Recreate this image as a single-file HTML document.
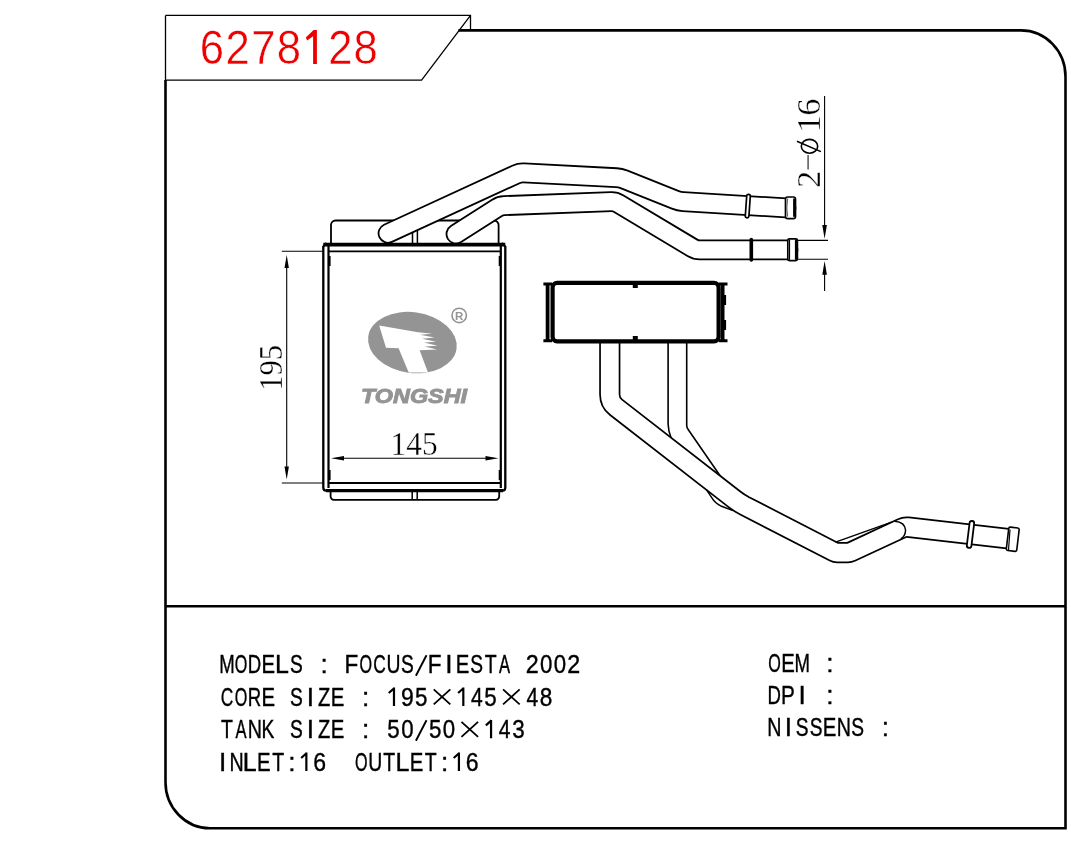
<!DOCTYPE html><html><head><meta charset="utf-8"><style>html,body{margin:0;padding:0;background:#fff;width:1071px;height:844px;overflow:hidden}svg{display:block;will-change:transform}</style></head><body>
<svg width="1071" height="844" viewBox="0 0 1071 844">
<rect width="1071" height="844" fill="#fff"/>
<g fill="none" stroke="#000" stroke-linecap="butt">
<path d="M165.5 15.4H470.5V30.2M470.5 15.4L421.6 80.1H165.5V15.4" stroke-width="1.3"/>
<path d="M458.4 30.4H1021A44.5 46 0 0 1 1065.5 76.4V828.2H210A44.5 46 0 0 1 165.5 782.2V80" stroke-width="2.6"/>
<path d="M165.5 606.2H1065.5" stroke-width="2.6"/>
</g>
<path d="M313.1 64V36.3L307.2 40.6L305.8 37.6L313.6 30.1H316.9V64Z" fill="#ee0000"/>
<text transform="translate(211.85,63.6) scale(0.9,1)" text-anchor="middle" font-family="Liberation Sans" font-size="48.5" fill="#ee0000" stroke="#fff" stroke-width="0.5">6</text>
<text transform="translate(237.6,63.6) scale(0.9,1)" text-anchor="middle" font-family="Liberation Sans" font-size="48.5" fill="#ee0000" stroke="#fff" stroke-width="0.5">2</text>
<text transform="translate(263.5,63.6) scale(0.9,1)" text-anchor="middle" font-family="Liberation Sans" font-size="48.5" fill="#ee0000" stroke="#fff" stroke-width="0.5">7</text>
<text transform="translate(288.8,63.6) scale(0.9,1)" text-anchor="middle" font-family="Liberation Sans" font-size="48.5" fill="#ee0000" stroke="#fff" stroke-width="0.5">8</text>
<text transform="translate(340.5,63.6) scale(0.9,1)" text-anchor="middle" font-family="Liberation Sans" font-size="48.5" fill="#ee0000" stroke="#fff" stroke-width="0.5">2</text>
<text transform="translate(365.75,63.6) scale(0.9,1)" text-anchor="middle" font-family="Liberation Sans" font-size="48.5" fill="#ee0000" stroke="#fff" stroke-width="0.5">8</text>
<g font-family="Liberation Sans" font-size="26.2" fill="#000" stroke="#000" stroke-width="0.4">
<text transform="translate(227.03,673.30) scale(0.709,1)" x="-10.90" y="0">M</text>
<text transform="translate(240.91,673.30) scale(0.616,1)" x="-10.17" y="0">O</text>
<text transform="translate(254.77,673.30) scale(0.710,1)" x="-9.89" y="0">D</text>
<text transform="translate(268.64,673.30) scale(0.776,1)" x="-9.24" y="0">E</text>
<text transform="translate(282.51,673.30) scale(0.954,1)" x="-7.91" y="0">L</text>
<text transform="translate(296.38,673.30) scale(0.731,1)" x="-8.72" y="0">S</text>
<text transform="translate(324.12,673.30) scale(1.000,1)" x="-3.63" y="0">:</text>
<text transform="translate(351.87,673.30) scale(0.860,1)" x="-8.54" y="0">F</text>
<text transform="translate(365.74,673.30) scale(0.616,1)" x="-10.17" y="0">O</text>
<text transform="translate(379.61,673.30) scale(0.664,1)" x="-9.62" y="0">C</text>
<text transform="translate(393.48,673.30) scale(0.740,1)" x="-9.45" y="0">U</text>
<text transform="translate(407.34,673.30) scale(0.731,1)" x="-8.72" y="0">S</text>
<path d="M415.91 675.70L426.51 655.20" stroke="#000" stroke-width="1.9" fill="none"/>
<text transform="translate(435.08,673.30) scale(0.860,1)" x="-8.54" y="0">F</text>
<text transform="translate(448.95,673.30) scale(1.000,1)" x="-3.63" y="0">I</text>
<text transform="translate(462.82,673.30) scale(0.776,1)" x="-9.24" y="0">E</text>
<text transform="translate(476.69,673.30) scale(0.731,1)" x="-8.72" y="0">S</text>
<text transform="translate(490.56,673.30) scale(0.743,1)" x="-7.98" y="0">T</text>
<text transform="translate(504.43,673.30) scale(0.634,1)" x="-8.72" y="0">A</text>
<text transform="translate(532.17,673.30) scale(0.889,1)" x="-7.27" y="0">2</text>
<text transform="translate(546.04,673.30) scale(0.848,1)" x="-7.27" y="0">0</text>
<text transform="translate(559.91,673.30) scale(0.848,1)" x="-7.27" y="0">0</text>
<text transform="translate(573.78,673.30) scale(0.889,1)" x="-7.27" y="0">2</text>
<text transform="translate(227.03,705.90) scale(0.664,1)" x="-9.62" y="0">C</text>
<text transform="translate(240.91,705.90) scale(0.616,1)" x="-10.17" y="0">O</text>
<text transform="translate(254.77,705.90) scale(0.709,1)" x="-9.90" y="0">R</text>
<text transform="translate(268.64,705.90) scale(0.776,1)" x="-9.24" y="0">E</text>
<text transform="translate(296.38,705.90) scale(0.731,1)" x="-8.72" y="0">S</text>
<text transform="translate(310.25,705.90) scale(1.000,1)" x="-3.63" y="0">I</text>
<text transform="translate(324.12,705.90) scale(0.768,1)" x="-8.00" y="0">Z</text>
<text transform="translate(338.00,705.90) scale(0.776,1)" x="-9.24" y="0">E</text>
<text transform="translate(365.74,705.90) scale(1.000,1)" x="-3.63" y="0">:</text>
<path d="M393.98 705.90V687.60M394.38 688.00L388.78 693.00" stroke="#000" stroke-width="2.2" fill="none"/>
<text transform="translate(407.34,705.90) scale(0.878,1)" x="-7.27" y="0">9</text>
<text transform="translate(421.21,705.90) scale(0.855,1)" x="-7.24" y="0">5</text>
<path d="M433.72 689.40L450.32 704.40M450.32 689.40L433.72 704.40" stroke="#000" stroke-width="1.8" fill="none"/>
<path d="M463.32 705.90V687.60M463.72 688.00L458.12 693.00" stroke="#000" stroke-width="2.2" fill="none"/>
<text transform="translate(476.69,705.90) scale(0.804,1)" x="-7.19" y="0">4</text>
<text transform="translate(490.56,705.90) scale(0.855,1)" x="-7.24" y="0">5</text>
<path d="M503.07 689.40L519.67 704.40M519.67 689.40L503.07 704.40" stroke="#000" stroke-width="1.8" fill="none"/>
<text transform="translate(532.17,705.90) scale(0.804,1)" x="-7.19" y="0">4</text>
<text transform="translate(546.04,705.90) scale(0.863,1)" x="-7.27" y="0">8</text>
<text transform="translate(227.03,738.30) scale(0.743,1)" x="-7.98" y="0">T</text>
<text transform="translate(240.91,738.30) scale(0.634,1)" x="-8.72" y="0">A</text>
<text transform="translate(254.77,738.30) scale(0.752,1)" x="-9.46" y="0">N</text>
<text transform="translate(268.64,738.30) scale(0.734,1)" x="-9.64" y="0">K</text>
<text transform="translate(296.38,738.30) scale(0.731,1)" x="-8.72" y="0">S</text>
<text transform="translate(310.25,738.30) scale(1.000,1)" x="-3.63" y="0">I</text>
<text transform="translate(324.12,738.30) scale(0.768,1)" x="-8.00" y="0">Z</text>
<text transform="translate(338.00,738.30) scale(0.776,1)" x="-9.24" y="0">E</text>
<text transform="translate(365.74,738.30) scale(1.000,1)" x="-3.63" y="0">:</text>
<text transform="translate(393.48,738.30) scale(0.855,1)" x="-7.24" y="0">5</text>
<text transform="translate(407.34,738.30) scale(0.848,1)" x="-7.27" y="0">0</text>
<path d="M415.91 740.70L426.51 720.20" stroke="#000" stroke-width="1.9" fill="none"/>
<text transform="translate(435.08,738.30) scale(0.855,1)" x="-7.24" y="0">5</text>
<text transform="translate(448.95,738.30) scale(0.848,1)" x="-7.27" y="0">0</text>
<path d="M461.46 721.80L478.06 736.80M478.06 721.80L461.46 736.80" stroke="#000" stroke-width="1.8" fill="none"/>
<path d="M491.06 738.30V720.00M491.46 720.40L485.86 725.40" stroke="#000" stroke-width="2.2" fill="none"/>
<text transform="translate(504.43,738.30) scale(0.804,1)" x="-7.19" y="0">4</text>
<text transform="translate(518.30,738.30) scale(0.855,1)" x="-7.19" y="0">3</text>
<text transform="translate(222.63,770.90) scale(1.000,1)" x="-3.63" y="0">I</text>
<text transform="translate(236.50,770.90) scale(0.752,1)" x="-9.46" y="0">N</text>
<text transform="translate(250.38,770.90) scale(0.954,1)" x="-7.91" y="0">L</text>
<text transform="translate(264.25,770.90) scale(0.776,1)" x="-9.24" y="0">E</text>
<text transform="translate(278.12,770.90) scale(0.743,1)" x="-7.98" y="0">T</text>
<text transform="translate(291.99,770.90) scale(1.000,1)" x="-3.63" y="0">:</text>
<path d="M306.36 770.90V752.60M306.75 753.00L301.16 758.00" stroke="#000" stroke-width="2.2" fill="none"/>
<text transform="translate(319.72,770.90) scale(0.880,1)" x="-7.36" y="0">6</text>
<text transform="translate(361.33,770.90) scale(0.616,1)" x="-10.17" y="0">O</text>
<text transform="translate(375.20,770.90) scale(0.740,1)" x="-9.45" y="0">U</text>
<text transform="translate(389.07,770.90) scale(0.743,1)" x="-7.98" y="0">T</text>
<text transform="translate(402.94,770.90) scale(0.954,1)" x="-7.91" y="0">L</text>
<text transform="translate(416.81,770.90) scale(0.776,1)" x="-9.24" y="0">E</text>
<text transform="translate(430.68,770.90) scale(0.743,1)" x="-7.98" y="0">T</text>
<text transform="translate(444.55,770.90) scale(1.000,1)" x="-3.63" y="0">:</text>
<path d="M458.92 770.90V752.60M459.32 753.00L453.72 758.00" stroke="#000" stroke-width="2.2" fill="none"/>
<text transform="translate(472.29,770.90) scale(0.880,1)" x="-7.36" y="0">6</text>
<text transform="translate(774.43,671.70) scale(0.616,1)" x="-10.17" y="0">O</text>
<text transform="translate(788.30,671.70) scale(0.776,1)" x="-9.24" y="0">E</text>
<text transform="translate(802.17,671.70) scale(0.709,1)" x="-10.90" y="0">M</text>
<text transform="translate(829.91,671.70) scale(1.000,1)" x="-3.63" y="0">:</text>
<text transform="translate(774.43,704.30) scale(0.710,1)" x="-9.89" y="0">D</text>
<text transform="translate(788.30,704.30) scale(0.791,1)" x="-9.10" y="0">P</text>
<text transform="translate(802.17,704.30) scale(1.000,1)" x="-3.63" y="0">I</text>
<text transform="translate(829.91,704.30) scale(1.000,1)" x="-3.63" y="0">:</text>
<text transform="translate(774.43,736.40) scale(0.752,1)" x="-9.46" y="0">N</text>
<text transform="translate(788.30,736.40) scale(1.000,1)" x="-3.63" y="0">I</text>
<text transform="translate(802.17,736.40) scale(0.731,1)" x="-8.72" y="0">S</text>
<text transform="translate(816.04,736.40) scale(0.731,1)" x="-8.72" y="0">S</text>
<text transform="translate(829.91,736.40) scale(0.776,1)" x="-9.24" y="0">E</text>
<text transform="translate(843.78,736.40) scale(0.752,1)" x="-9.46" y="0">N</text>
<text transform="translate(857.65,736.40) scale(0.731,1)" x="-8.72" y="0">S</text>
<text transform="translate(885.39,736.40) scale(1.000,1)" x="-3.63" y="0">:</text>
</g>
<g fill="none" stroke="#000">
<path d="M331 244V225A4.5 4.5 0 0 1 335.5 220.5H494A4.5 4.5 0 0 1 498.6 225V244" stroke-width="1.8"/>
<path d="M412.5 228V244M417.4 228V244" stroke-width="1.5"/>
<path d="M330.6 491V496.5A3.3 3.3 0 0 0 333.9 499.8H495.9A3.3 3.3 0 0 0 499.2 496.5V491" stroke-width="1.8"/>
<path d="M412.2 491V500M417.2 491V500" stroke-width="1.5"/>
<path d="M323.3 246V487.5Q323.3 490.6 326 490.6M505.3 246V487.5Q505.3 490.6 502.6 490.6" stroke-width="2.3"/>
<path d="M328.5 246V488M500.8 246V488" stroke-width="2.2"/>
<path d="M323.3 244.6H505.3" stroke-width="3.6"/>
<path d="M326 490.6H503" stroke-width="3.4"/>
<path d="M323.3 246.5L326.5 242.8M505.3 246.5L502 242.8" stroke-width="2"/>
<path d="M328.5 251.3H500.8M328.5 483H500.8" stroke-width="1.8"/>
<path d="M329.8 256V266M329.8 470V480M499.5 256V266M499.5 470V480" stroke-width="1.6"/>
</g>
<path d="M456.00 234.00L496.83 207.95Q500.20 205.80 504.20 205.65L611.20 201.65Q615.20 201.50 618.63 203.56L692.37 247.79Q695.80 249.85 699.80 249.85L788.00 249.85" fill="none" stroke="#000" stroke-width="20.80" stroke-linejoin="miter" stroke-linecap="round" stroke-miterlimit="10"/><path d="M456.00 234.00L496.83 207.95Q500.20 205.80 504.20 205.65L611.20 201.65Q615.20 201.50 618.63 203.56L692.37 247.79Q695.80 249.85 699.80 249.85L788.00 249.85" fill="none" stroke="#fff" stroke-width="17.20" stroke-linejoin="miter" stroke-linecap="round" stroke-miterlimit="10"/>
<path d="M388.00 233.30L516.17 174.37Q519.80 172.70 523.79 172.91L616.41 177.69Q620.40 177.90 624.11 179.39L675.39 199.91Q679.10 201.40 683.09 201.64L786.00 207.90" fill="none" stroke="#000" stroke-width="20.70" stroke-linejoin="miter" stroke-linecap="round" stroke-miterlimit="10"/><path d="M388.00 233.30L516.17 174.37Q519.80 172.70 523.79 172.91L616.41 177.69Q620.40 177.90 624.11 179.39L675.39 199.91Q679.10 201.40 683.09 201.64L786.00 207.90" fill="none" stroke="#fff" stroke-width="17.10" stroke-linejoin="miter" stroke-linecap="round" stroke-miterlimit="10"/>
<rect x="746.00" y="194.35" width="3.60" height="23.50" rx="1.80" fill="#fff" stroke="#000" stroke-width="1.7" transform="rotate(4 747.80 206.10)"/>
<rect x="785.5" y="197" width="10" height="21.6" rx="2.2" fill="#fff" stroke="#000" stroke-width="1.7"/>
<path d="M794.3 198.5V216.8" stroke="#000" stroke-width="2.4"/>
<path d="M787.6 198.6Q786 207.5 787.6 216.5" stroke="#666" stroke-width="1.2" fill="none"/>
<rect x="749.5" y="237.8" width="3.6" height="24" rx="1.8" fill="#000"/>
<rect x="787.8" y="238.8" width="9.6" height="21.8" rx="1.6" fill="#fff" stroke="#000" stroke-width="1.7"/>
<path d="M796.2 239.6V259.8" stroke="#000" stroke-width="2.6"/>
<path d="M789.5 239.6V259.8" stroke="#000" stroke-width="1.2"/>
<g stroke="#000" fill="none" stroke-width="1.1">
<path d="M281.8 251.3H323M281.8 483H323"/>
<path d="M286.7 262V472"/>
<path d="M337 458.3H492"/>
<path d="M798 240.4H828M798 259.3H828"/>
<path d="M824.6 96V230M824.6 270V291"/>
</g>
<path d="M286.70 255.00L288.90 268.00L284.50 268.00Z" fill="#000"/>
<path d="M286.70 479.50L284.50 466.50L288.90 466.50Z" fill="#000"/>
<path d="M331.00 458.30L344.00 456.10L344.00 460.50Z" fill="#000"/>
<path d="M498.50 458.30L485.50 460.50L485.50 456.10Z" fill="#000"/>
<path d="M824.60 238.80L822.30 225.00L826.90 225.00Z" fill="#000"/>
<path d="M824.60 260.90L826.90 274.70L822.30 274.70Z" fill="#000"/>
<g font-family="Liberation Serif" fill="#000" font-size="34.5" stroke="#fff" stroke-width="0.35">
<text transform="translate(282,390.8) rotate(-90)" textLength="46" lengthAdjust="spacingAndGlyphs">195</text>
<text x="390.6" y="454.8" textLength="47" lengthAdjust="spacingAndGlyphs">145</text>
<text transform="translate(820,107) rotate(-90)" text-anchor="middle">6</text>
<text transform="translate(820,123.8) rotate(-90)" text-anchor="middle">1</text>
<text transform="translate(820,179.3) rotate(-90)" text-anchor="middle">2</text>
</g>
<ellipse cx="809.5" cy="146.3" rx="8.2" ry="6.9" fill="none" stroke="#000" stroke-width="1.6"/>
<path d="M796.9 141.2L820.9 151.6" stroke="#000" stroke-width="1.5"/>
<path d="M808.1 155V169.5" stroke="#555" stroke-width="1.5"/>
<g fill="#949494">
<ellipse cx="412.4" cy="342.6" rx="44.6" ry="30.4" transform="rotate(8 412.4 342.6)"/>
</g>
<path d="M379.2 325.5L418 332.3L432 333.8L420 334.8L434.5 337.5L422 338.7L436 341.7L424 342.5L437.5 345.7L424.6 346.4L437 349.6L419.6 350.3L428 372.6L408.7 372.6L398.6 348.2L386 347.8Z" fill="#fff"/>
<circle cx="459.2" cy="315.4" r="7.2" fill="none" stroke="#949494" stroke-width="1.6"/>
<text x="459.2" y="319.6" font-family="Liberation Sans" font-weight="bold" font-size="11.5" fill="#949494" text-anchor="middle">R</text>
<text x="361" y="403.2" font-family="Liberation Sans" font-weight="bold" font-style="italic" font-size="19.5" fill="#949494" stroke="#949494" stroke-width="0.9" textLength="106" lengthAdjust="spacingAndGlyphs">TONGSHI</text>
<path d="M668.1 342V424Q668.3 431 671 437.5L720.1 476L688.5 430Q686.7 427.5 686.7 425.4V342Z" fill="#fff" stroke="none"/>
<path d="M668.1 342V424Q668.3 431 671 437.5M686.7 342V425.4Q686.7 427.5 688.5 430L720.6 476.5" fill="none" stroke="#000" stroke-width="1.6"/>
<path d="M609.80 342.00L609.80 394.40Q609.80 402.40 616.12 407.31L734.66 499.42Q739.40 503.10 744.73 505.85L834.17 551.91Q835.50 552.60 837.00 552.60L848.00 552.60Q849.50 552.60 850.86 551.97L902.08 528.07Q904.80 526.80 907.78 527.14L1012.00 539.10" fill="none" stroke="#000" stroke-width="21.2" stroke-linejoin="bevel"/>
<path d="M609.80 342.00L609.80 394.40Q609.80 402.40 616.12 407.31L734.66 499.42Q739.40 503.10 744.73 505.85L834.17 551.91Q835.50 552.60 837.00 552.60L848.00 552.60Q849.50 552.60 850.86 551.97L902.08 528.07Q904.80 526.80 907.78 527.14L1012.00 539.10" fill="none" stroke="#fff" stroke-width="17.8" stroke-linejoin="bevel"/>
<path d="M706.2 489.4L712.4 498.6Q715 503 721.6 506.3L733 510.6" fill="none" stroke="#000" stroke-width="1.5"/>
<path d="M835.5 542.2L892.3 521.8" fill="none" stroke="#000" stroke-width="1.4"/>
<g fill="none" stroke="#000">
<rect x="552.6" y="282.8" width="166" height="58.6" rx="4.5" fill="#fff" stroke-width="4.2"/>
<path d="M543.4 283.9H552M543.4 340.8H552M719 283.9H727.5M719 340.8H727.5" stroke-width="3"/>
<path d="M547.6 285V340M722.6 285V340" stroke-width="3.8"/>
<path d="M725 295V305M725 320V330" stroke-width="2.2"/>
</g>
<path d="M632.8 284V288H637.8V284Z M632.8 340V336H637.8V340Z" fill="#000"/>
<rect x="968.20" y="520.90" width="4.60" height="27.00" rx="2.30" fill="#fff" stroke="#000" stroke-width="1.8" transform="rotate(7 970.50 534.40)"/>
<rect x="1007.5" y="527.5" width="10.5" height="23.5" rx="1.6" fill="#fff" stroke="#000" stroke-width="1.6" transform="rotate(6.7 1012.7 539.2)"/>
<path d="M1010 529.5L1008.5 550" stroke="#000" stroke-width="1.2"/>
<path d="M894.7 521.2Q905 522 905.6 530.3Q905 537 900.8 538.8" fill="none" stroke="#000" stroke-width="1.5"/>
</svg></body></html>
